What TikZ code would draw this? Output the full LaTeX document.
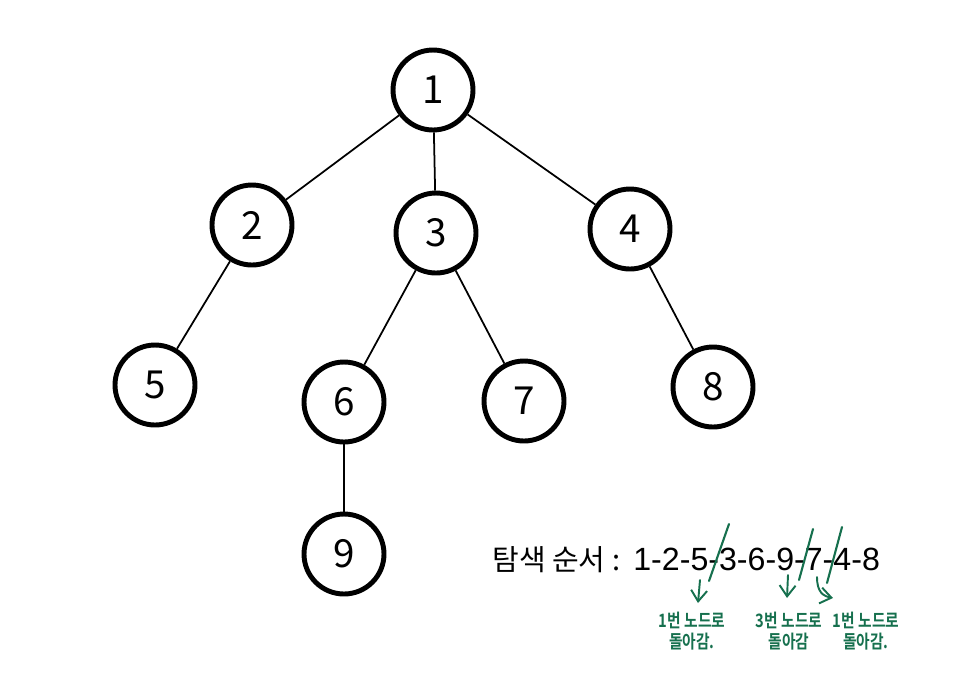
\documentclass[tikz,border=0pt]{standalone}
\usepackage{fontspec}
\setmainfont{Noto Sans CJK KR}
\newfontfamily\seqfont{Liberation Sans}
\newfontfamily\notefont[FakeStretch=0.8]{Noto Sans CJK KR Bold}
\usetikzlibrary{
    arrows.meta,
    positioning,
    calc
}
\definecolor{notegreen}{RGB}{22,112,78}
\tikzset{
    % --- Tree vertex (thick circle) ---
    tree node/.style = {
        circle, draw, line width=2.8pt,
        minimum size=1.6cm, inner sep=0pt,
        font=\fontsize{22}{26}\selectfont
    },
    % --- Tree edge ---
    tree edge/.style = {
        line width=1pt
    },
    % --- Visiting order text ---
    order text/.style = {
        font=\fontsize{16.5}{20}\selectfont,
        anchor=base west, inner sep=0pt
    },
    % --- Handwritten green note ---
    note/.style = {
        font=\notefont\fontsize{10.5}{12}\selectfont,
        text=notegreen, align=center, inner sep=0pt
    },
    % --- Green strike mark ---
    strike/.style = {
        draw=notegreen, line width=1.2pt, line cap=round
    },
    % --- Green pointer arrow ---
    pointer/.style = {
        draw=notegreen, line width=1.1pt, line cap=round,
        -{Straight Barb[length=2.2mm, width=3.2mm]}
    }
}

\begin{document}
\begin{tikzpicture}[x=0.02cm, y=-0.02cm]

\useasboundingbox (0,0) rectangle (960,691);

% ---------------------------------------------------------
% Tree vertices
% ---------------------------------------------------------
\node[tree node] (n1) at (433, 90) {1};
\node[tree node] (n2) at (252, 225) {2};
\node[tree node] (n3) at (436, 233) {3};
\node[tree node] (n4) at (630, 229) {4};
\node[tree node] (n5) at (155, 385) {5};
\node[tree node] (n6) at (344, 402) {6};
\node[tree node] (n7) at (524, 401) {7};
\node[tree node] (n8) at (713, 387) {8};
\node[tree node] (n9) at (344, 554) {9};

% ---------------------------------------------------------
% Tree edges
% ---------------------------------------------------------
\foreach \a/\b in {n1/n2, n1/n3, n1/n4, n2/n5, n3/n6, n3/n7, n4/n8, n6/n9}
    \draw[tree edge] (\a) -- (\b);

% ---------------------------------------------------------
% Visiting order
% ---------------------------------------------------------
\node[order text] (order) at (492, 570) {탐색 순서 :};
\node[order text, font=\seqfont\fontsize{18.3}{22}\selectfont]
    (seq) at (633, 570) {1-2-5-3-6-9-7-4-8};

% Strike marks
\draw[strike] (729, 524) -- (709, 581);
\draw[strike] (813, 529) -- (799, 580);
\draw[strike] (842, 527) -- (827, 583);

% ---------------------------------------------------------
% Notes
% ---------------------------------------------------------
\node[note] (back1) at (692, 631) {1번 노드로\\돌아감.};
\node[note] (back2) at (789, 631) {3번 노드로\\돌아감};
\node[note] (back3) at (866, 631) {1번 노드로\\돌아감.};

\coordinate (p1) at (700, 580);
\coordinate (q1) at (698, 603);
\coordinate (p2) at (788, 575);
\coordinate (q2) at (787, 598);
\coordinate (p3) at (817, 577);
\coordinate (q3) at (833, 598);

\draw[pointer] (p1) -- (q1);
\draw[pointer] (p2) -- (q2);
\draw[pointer] (p3) .. controls (817, 592) and (823, 596) .. (q3);

\end{tikzpicture}
\end{document}
